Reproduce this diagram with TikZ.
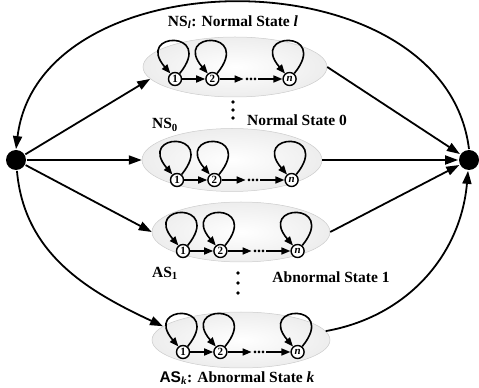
\documentclass[tikz,border=0pt]{standalone}
\usepackage{fontspec}
\setmainfont{Liberation Serif}
\newfontfamily\headsf{Liberation Sans}
\usetikzlibrary{arrows.meta,positioning,shapes.geometric}

\begin{document}
\begin{tikzpicture}[x=1pt,y=1pt,line width=1.8pt,
    >={Triangle[length=13pt,width=9pt]},
    every node/.style={inner sep=1pt},
    hub/.style={circle,fill=black,minimum size=20pt,inner sep=0pt},
    group/.style={ellipse,draw=gray!40,line width=0.5pt,inner sep=0pt,
      inner color=white,outer color=gray!14},
    st/.style={circle,draw,line width=1.4pt,fill=white,minimum size=13pt,
      inner sep=0pt,font=\fontsize{11}{11}\selectfont\bfseries},
    dotsbox/.style={inner sep=0.5pt,font=\fontsize{16}{16}\selectfont\bfseries},
    sm/.style={line width=1.6pt,-{Triangle[length=9pt,width=7pt]}},
    lbl/.style={font=\fontsize{15.5}{18}\selectfont\bfseries}]
  \useasboundingbox (0,0) rectangle (479,388);
  % start and end
  \node[hub] (L) at (16,228) {};
  \node[hub] (R) at (469,228) {};
  % state groups
  \node[group,minimum width=184pt,minimum height=60pt] (NSl) at (235,321) {};
  \node[group,minimum width=180pt,minimum height=63pt] (NS0) at (232,228) {};
  \node[group,minimum width=178pt,minimum height=60pt] (AS1) at (241,156) {};
  \node[group,minimum width=178pt,minimum height=56pt] (ASk) at (241,48) {};
  % chains inside the groups
  \foreach \g/\x/\y in {NSl/175/309,NS0/177/208,AS1/183/137,ASk/183/36}{
    \node[st] (\g-1) at (\x,\y) {1};
    \node[st,right=23pt of \g-1] (\g-2) {2};
    \node[dotsbox,right=24pt of \g-2] (\g-d) {...};
    \node[st,right=24pt of \g-d] (\g-n) {\itshape n};
    \draw[sm] (\g-1) -- (\g-2);
    \draw[sm] (\g-2) -- (\g-d);
    \draw[sm] (\g-d) -- (\g-n);
    \foreach \k in {1,2,n}
      \draw[sm] (\g-\k.50) .. controls +(36,44) and +(-36,42) .. (\g-\k.130);
  }
  % labels
  \node[lbl] (tNSl) at (233,366) {NS\textsubscript{\textit{l}}: Normal State \textit{l}};
  \node[lbl] (tNS0) at (165,263) {NS\textsubscript{0}};
  \node[lbl] (tN0) at (297,268) {Normal State 0};
  \node[lbl] (tAS1) at (165,115) {AS\textsubscript{1}};
  \node[lbl] (tA1) at (331,111) {Abnormal State 1};
  \node[lbl] (tASk) at (237,10) {{\headsf AS}\textsubscript{\textit{k}}: Abnormal State \textit{k}};
  \foreach \y in {286,278,270} \fill (233,\y) circle (1.8pt);
  \foreach \y in {115,105,95} \fill (238,\y) circle (1.8pt);
  % transitions
  \draw[->] (L) -- (NSl.188);
  \draw[->] (L) -- (NS0.west);
  \draw[->] (L) -- (AS1.west);
  \draw[->] (L) to[out=-85,in=155] (ASk.170);
  \draw[->] (NSl.east) -- (R);
  \draw[->] (NS0.east) -- (R);
  \draw[->] (AS1.east) -- (R);
  \draw[->] (ASk.6) to[out=10,in=-95] (R);
  \draw[->] (R.north) .. controls (445,434) and (40,434) .. (L.north);
\end{tikzpicture}
\end{document}
